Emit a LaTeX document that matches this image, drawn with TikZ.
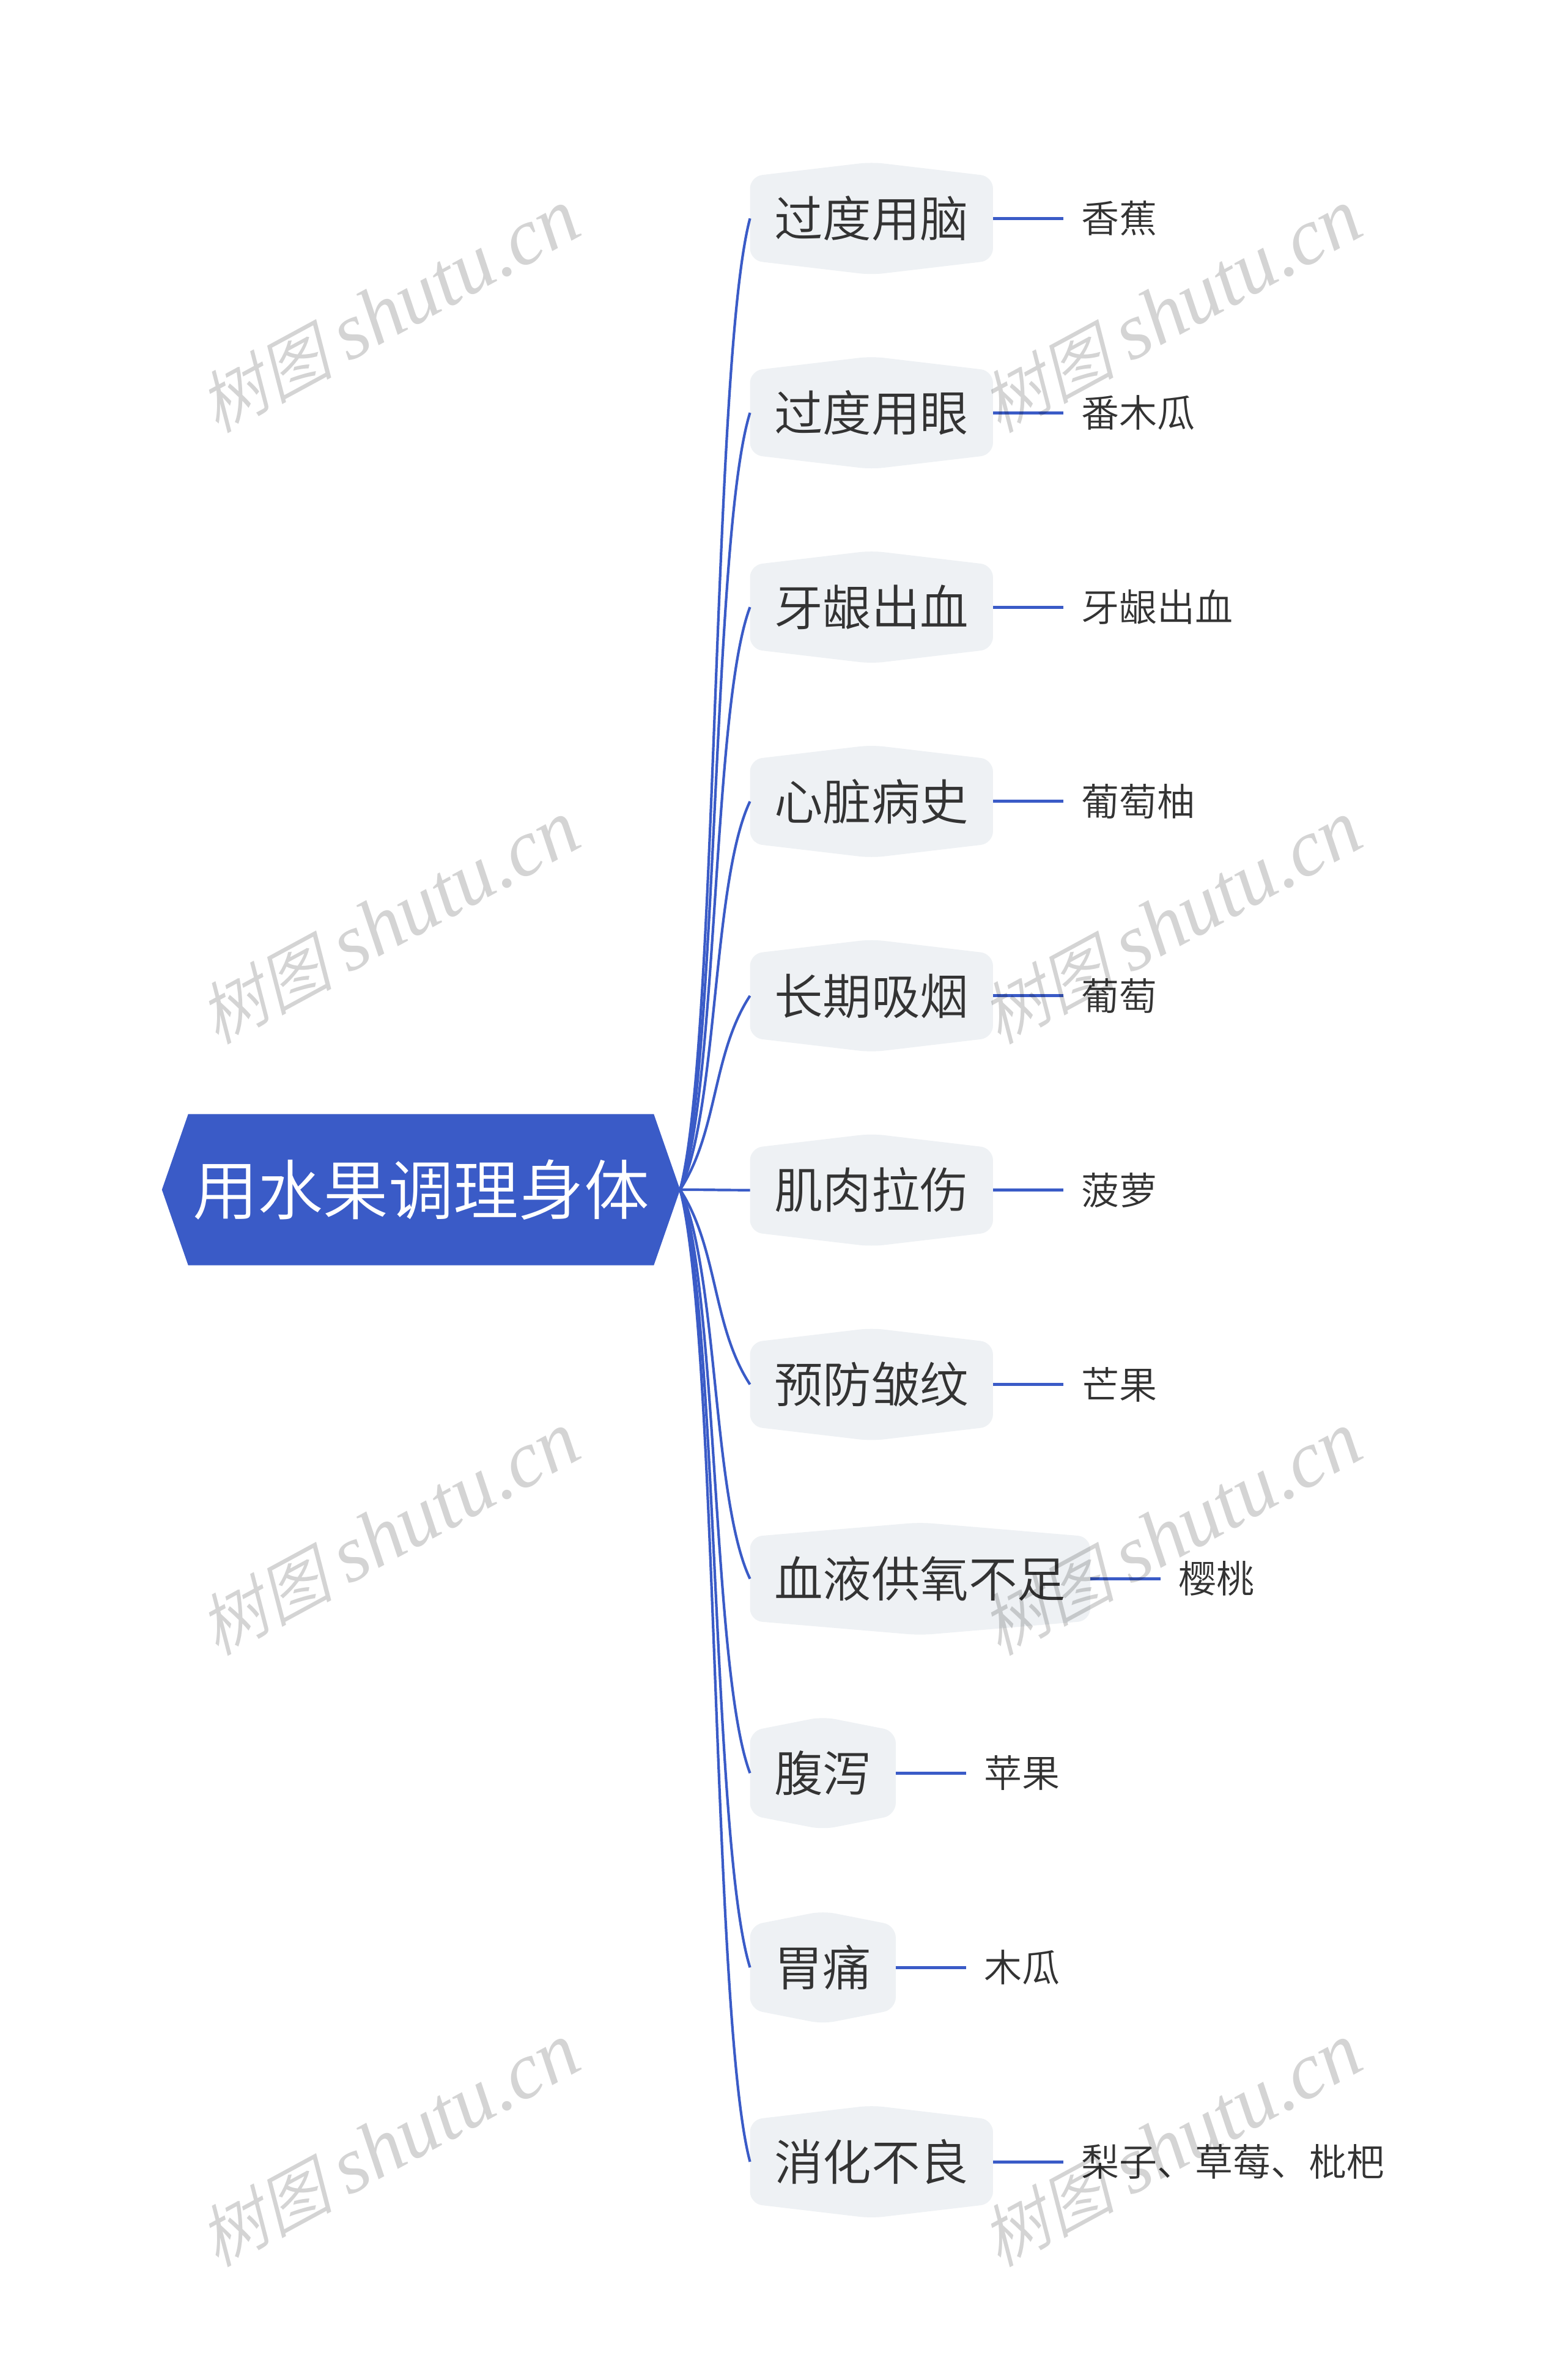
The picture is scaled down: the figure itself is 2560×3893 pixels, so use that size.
\documentclass[tikz,border=0pt]{standalone}
\usepackage{fontspec}
\usetikzlibrary{calc}
\newfontfamily\cjk[UprightFont=* DemiLight]{Noto Sans CJK SC}
\newfontfamily\cjkslant[UprightFont=* DemiLight,FakeSlant=0.25]{Noto Sans CJK SC}
\newfontfamily\markserif{Liberation Serif}
\definecolor{rootblue}{HTML}{3A5BC7}
\definecolor{boxfill}{HTML}{EEF1F4}
\definecolor{inktext}{HTML}{333333}
\pgfdeclarelayer{back}
\pgfsetlayers{back,main}
\tikzset{
 x=1pt,y=-1pt,
 rootnode/.style={inner sep=0pt,minimum width=847pt,minimum height=247pt,text=white,font=\cjk\fontsize{106.7}{120}\selectfont,text height=94pt,text depth=12.7pt},
 topicnode/.style={inner sep=0pt,anchor=west,minimum height=184pt,text=inktext,font=\cjk\fontsize{79.5}{90}\selectfont,text height=70pt,text depth=9.5pt},
 leafnode/.style={inner ysep=0pt,inner xsep=29pt,anchor=west,text=inktext,font=\cjk\fontsize{62}{70}\selectfont,text height=54.5pt,text depth=7.5pt},
 link/.style={draw=rootblue,line width=4.2pt},
 stub/.style={draw=rootblue,line width=5pt},
 markstyle/.style={rotate=28.5,black,text opacity=0.17,inner sep=0pt}
}
\begin{document}
\begin{tikzpicture}
\useasboundingbox (0,0) rectangle (2560,3893);
\node[rootnode] (root) at (688.5,1946) {用水果调理身体};
\begin{pgfonlayer}{back}
\fill[white] (0,0) rectangle (2560,3893);
\fill[rootblue] (root.east) -- ($(root.north east)+(-43,0)$) -- ($(root.north west)+(43,0)$) -- (root.west) -- ($(root.south west)+(43,0)$) -- ($(root.south east)+(-43,0)$) -- cycle;
\end{pgfonlayer}
\foreach \i/\w/\a/\c in {0/397/过度用脑/香蕉,1/397/过度用眼/番木瓜,2/397/牙龈出血/牙龈出血,3/397/心脏病史/葡萄柚,4/397/长期吸烟/葡萄,5/397/肌肉拉伤/菠萝,6/397/预防皱纹/芒果,7/556/血液供氧不足/樱桃,8/238/腹泻/苹果,9/238/胃痛/木瓜,10/397/消化不良/梨子、草莓、枇杷}{
 \pgfmathsetmacro\yy{357.3+317.87*\i}
 \pgfmathsetmacro\bb{(60+0.11*abs(\yy-1946))*sign(\yy-1946)*(abs(\yy-1946)>1?1:0)}
 \node[topicnode,minimum width=\w pt] (b\i) at (1226.5,\yy) {\a};
 \node[leafnode] (s\i) at ($(b\i.east)+(115,0)$) {\c};
 \begin{pgfonlayer}{back}
 \fill[boxfill,rounded corners=20pt] (b\i.north) -- ($(b\i.north east)+(0,23.5)$) -- ($(b\i.south east)+(0,-23.5)$) -- (b\i.south) -- ($(b\i.south west)+(0,-23.5)$) -- ($(b\i.north west)+(0,23.5)$) -- cycle;
 \end{pgfonlayer}
 \draw[link] (root.east) .. controls ($(root.east)+(62,\bb)$) and ($(b\i.west)+(-62,-\bb)$) .. (b\i.west);
 \draw[stub] (b\i.east) -- (s\i.west);
}
\foreach \r in {0,1,2,3}{
 \foreach \q in {0,1}{
  \node[markstyle] (w\r\q) at ({636+1279*\q},{509+1000*\r}) {{\fontsize{110}{130}\selectfont\cjkslant 树图}\hspace{26pt}{\fontsize{131}{130}\selectfont\markserif\itshape shutu.cn}};
 }
}
\end{tikzpicture}
\end{document}
